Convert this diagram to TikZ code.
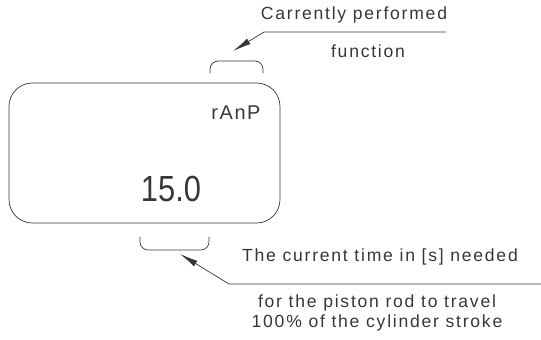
\documentclass[tikz,border=0pt]{standalone}
\usepackage{fontspec}
\setmainfont{Liberation Sans}
\usetikzlibrary{arrows.meta}
\begin{document}
\begin{tikzpicture}[x=0.03cm, y=-0.03cm, line cap=round, line join=round]
  \definecolor{dispgray}{RGB}{55,55,55}
  \tikzset{
    lbl/.style={font=\fontsize{15}{17}\addfontfeatures{LetterSpace=10}\selectfont, text=dispgray, inner sep=0pt},
    pointer/.style={draw=dispgray, line width=0.6pt, -{Latex[length=0.55cm,width=0.19cm]}}
  }
  \useasboundingbox (0,0) rectangle (541,339);
  % display and brackets
  \draw[dispgray, line width=0.6pt, rounded corners=20pt] (9,83) rectangle (280,223);
  \draw[dispgray, line width=0.6pt, rounded corners=7pt] (210,73) -- (210,61) -- (263,61) -- (263,73);
  \draw[dispgray, line width=0.6pt, rounded corners=7pt] (140,237) -- (140,250) -- (209,250) -- (209,237);
  \node[lbl, font=\fontsize{17}{19}\addfontfeatures{LetterSpace=8}\selectfont] (mode) at (236,113) {rAnP};
  \node[lbl, font=\fontsize{31}{33}\selectfont, xscale=0.85] (time) at (171,189) {15.0};
  % function pointer
  \coordinate (funcend) at (446,32);
  \coordinate (funcbend) at (264,32);
  \coordinate (functip) at (233,51);
  \draw[pointer] (funcend) -- (funcbend) -- (functip);
  \node[lbl] (func1) at (354,15) {Carrently performed};
  \node[lbl] (func2) at (368,51) {function};
  % time pointer
  \coordinate (timeend) at (541,284);
  \coordinate (timebend) at (229,284);
  \coordinate (timetip) at (180,254);
  \draw[pointer] (timeend) -- (timebend) -- (timetip);
  \node[lbl] (note1) at (380,257) {The current time in [s] needed};
  \node[lbl] (note2) at (377,303) {for the piston rod to travel};
  \node[lbl] (note3) at (377,323) {100\% of the cylinder stroke};
\end{tikzpicture}
\end{document}
